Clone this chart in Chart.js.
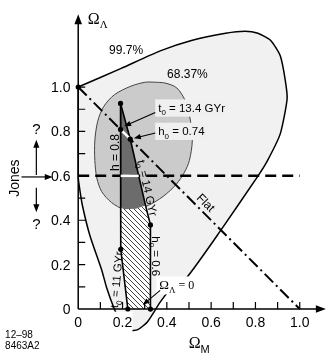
<!DOCTYPE html>
<html>
<head>
<meta charset="utf-8">
<title>Omega_M vs Omega_Lambda</title>
<script src="https://cdn.jsdelivr.net/npm/chart.js@4.4.1/dist/chart.umd.min.js"></script>
<style>
  html, body { margin: 0; padding: 0; background: #fff; }
  canvas { display: block; }
</style>
</head>
<body>
<canvas id="chart" width="331" height="357"></canvas>
<script>
// values, as [Omega_M, Omega_Lambda]
const contour997 = [
  [0, 1.0], [0.194, 1.084], [0.370, 1.163], [0.515, 1.211], [0.665, 1.242], [0.753, 1.251],
  [0.811, 1.242], [0.868, 1.211], [0.912, 1.141], [0.934, 1.035], [0.943, 0.947], [0.912, 0.789],
  [0.855, 0.670], [0.811, 0.599], [0.648, 0.361], [0.489, 0.141], [0.423, 0.097], [0.370, 0.031],
  [0.313, -0.057], [0.269, -0.093], [0.229, -0.097], [0.194, -0.066], [0.163, 0], [0.128, 0.097],
  [0.106, 0.176], [0.053, 0.330], [0.018, 0.471], [0.004, 0.559], [0, 0.595], [0, 1.0]
];
const contour6837 = [
  [0.339, 1.022], [0.392, 1.018], [0.445, 0.996], [0.485, 0.934], [0.507, 0.846], [0.515, 0.758],
  [0.502, 0.670], [0.480, 0.617], [0.441, 0.560], [0.383, 0.507], [0.317, 0.467], [0.260, 0.452],
  [0.207, 0.449], [0.150, 0.480], [0.106, 0.529], [0.084, 0.590], [0.075, 0.670], [0.075, 0.758],
  [0.088, 0.846], [0.115, 0.912], [0.163, 0.965], [0.238, 1.004], [0.304, 1.022], [0.339, 1.022]
];
const darkWedge = [
  [0.191, 0.926], [0.235, 0.765], [0.304, 0.466], [0.260, 0.452], [0.207, 0.449], [0.191, 0.458], [0.191, 0.926]
];
const hatchArea = [
  [0.191, 0.458], [0.207, 0.449], [0.260, 0.452], [0.304, 0.466], [0.326, 0.379], [0.326, 0],
  [0.224, 0], [0.192, 0.269], [0.191, 0.458]
];
const leftEdge = [[0.191, 0.926], [0.192, 0.269], [0.224, 0]];          // h = 0.8, then t0 = 11 GYr
const rightEdge = [[0.191, 0.926], [0.235, 0.765], [0.304, 0.466], [0.326, 0.379], [0.326, 0]]; // t0 = 14 GYr, h0 = 0.6
const flatLine = [[0, 1], [1, 0]];
const jonesLine = [[0, 0.6], [1, 0.6]];
const flatGap = [[0.191, 0.809], [0.235, 0.765]];
const jonesGap = [[0.192, 0.6], [0.273, 0.6]];
const dots = [[0, 1], [0.191, 0.926], [0.191, 0.809], [0.235, 0.765], [0.192, 0.269], [0.326, 0.379], [0.224, 0], [0.326, 0]];

const xTickValues = [0, 0.2, 0.4, 0.6, 0.8, 1.0];
const xTickLabels = ["0", "0.2", "0.4", "0.6", "0.8", "1.0"];
const yTickValues = [0, 0.2, 0.4, 0.6, 0.8, 1.0];
const yTickLabels = ["0", "0.2", "0.4", "0.6", "0.8", "1.0"];

const SANS = '"Liberation Sans", Arial, sans-serif';
const SERIF = '"Liberation Serif", "Times New Roman", serif';

const pts = a => a.map(([x, y]) => ({ x, y }));

function hatchPattern() {
  const s = 5;
  const c = document.createElement("canvas");
  c.width = c.height = s;
  const g = c.getContext("2d");
  g.fillStyle = "#fff";
  g.fillRect(0, 0, s, s);
  g.strokeStyle = "#111";
  g.lineWidth = 0.8;
  g.beginPath();
  g.moveTo(0, 0); g.lineTo(s, s);
  g.moveTo(-1, s - 1); g.lineTo(1, s + 1);
  g.moveTo(s - 1, -1); g.lineTo(s + 1, 1);
  g.stroke();
  return g.createPattern(c, "repeat");
}

function drawRuns(ctx, parts, px, py, opt = {}) {
  const size = opt.size || 12;
  ctx.save();
  ctx.translate(px, py);
  ctx.rotate((opt.rot || 0) * Math.PI / 180);
  ctx.textAlign = "left";
  ctx.textBaseline = "alphabetic";
  const fontOf = p => (p.sub ? Math.round(size * 0.72) : (p.size || size)) + "px " + (p.family || opt.family || SANS);
  let w = 0;
  parts.forEach(p => { ctx.font = fontOf(p); w += ctx.measureText(p.t).width; });
  let cx = opt.align === "left" ? 0 : opt.align === "right" ? -w : -w / 2;
  if (opt.box) {
    ctx.fillStyle = opt.box;
    ctx.fillRect(cx - 3, -size * 0.72, w + 6, size * 1.5);
  }
  ctx.fillStyle = "#000";
  parts.forEach(p => {
    ctx.font = fontOf(p);
    ctx.fillText(p.t, cx, size * 0.36 + (p.sub ? size * 0.3 : 0));
    cx += ctx.measureText(p.t).width;
  });
  ctx.restore();
}

function arrow(ctx, x1, y1, x2, y2, head = 7, lw = 1.2) {
  const a = Math.atan2(y2 - y1, x2 - x1);
  const c = Math.cos(a), s = Math.sin(a), hw = head * 0.38;
  ctx.save();
  ctx.strokeStyle = ctx.fillStyle = "#000";
  ctx.lineWidth = lw;
  ctx.beginPath();
  ctx.moveTo(x1, y1);
  ctx.lineTo(x2 - c * head * 0.8, y2 - s * head * 0.8);
  ctx.stroke();
  ctx.beginPath();
  ctx.moveTo(x2, y2);
  ctx.lineTo(x2 - head * c + hw * s, y2 - head * s - hw * c);
  ctx.lineTo(x2 - head * c - hw * s, y2 - head * s + hw * c);
  ctx.closePath();
  ctx.fill();
  ctx.restore();
}

const T = t => ({ t });
const S = t => ({ t, sub: true });

const annotations = {
  id: "annotations",
  afterDatasetsDraw(chart) {
    const { ctx, scales: { x, y } } = chart;
    const X = v => x.getPixelForValue(v), Y = v => y.getPixelForValue(v);

    // label patches that sit over the contours
    drawRuns(ctx, [T("t"), S("0"), T(" = 13.4 GYr")], X(0.361), Y(0.907), { size: 11.5, align: "left", box: "#f0f0f0" });
    drawRuns(ctx, [T("h"), S("0"), T(" = 0.74")], X(0.361), Y(0.802), { size: 11.5, align: "left", box: "#f0f0f0" });
    drawRuns(ctx, [{ t: "\u03A9", size: 13 }, S("\u039B"), T(" = 0")], X(0.445), Y(0.108), { size: 12, family: SERIF, box: "#fff" });

    // axes
    ctx.save();
    ctx.strokeStyle = "#000";
    ctx.lineWidth = 1.2;
    ctx.beginPath();
    for (let i = 1; i <= 10; i++) {
      const v = i / 10;
      ctx.moveTo(X(0), Y(v)); ctx.lineTo(X(0) + 7, Y(v));
      ctx.moveTo(X(v), Y(0)); ctx.lineTo(X(v), Y(0) - 7);
    }
    ctx.stroke();
    ctx.restore();
    arrow(ctx, X(0), Y(0), X(0), Y(1.328), 10, 1.5);
    arrow(ctx, X(0), Y(0), X(1.118), Y(0), 10, 1.5);

    ctx.save();
    ctx.fillStyle = "#fff";
    ctx.fillRect(X(0.142), Y(-0.012), X(0.245) - X(0.142), Y(-0.105) - Y(-0.012));
    ctx.restore();
    xTickValues.forEach((v, i) => drawRuns(ctx, [T(xTickLabels[i])], X(v), Y(-0.057), { size: 14 }));
    yTickValues.forEach((v, i) => drawRuns(ctx, [T(yTickLabels[i])], X(-0.035), Y(v), { size: 14, align: "right" }));

    drawRuns(ctx, [{ t: "\u03A9", size: 16 }, { t: "\u039B", sub: true }], X(0.088), Y(1.31), { size: 15, family: SERIF });
    drawRuns(ctx, [{ t: "\u03A9", size: 16, family: SERIF }, S("M")], X(0.546), Y(-0.152), { size: 15 });

    // region labels
    drawRuns(ctx, [T("99.7%")], X(0.216), Y(1.167), { size: 12 });
    drawRuns(ctx, [T("68.37%")], X(0.493), Y(1.062), { size: 12 });
    drawRuns(ctx, [T("h = 0.8")], X(0.163), Y(0.705), { size: 12, rot: -90 });
    drawRuns(ctx, [T("t"), S("0"), T(" = 14 GYr")], X(0.313), Y(0.546), { size: 11.5, rot: 77 });
    drawRuns(ctx, [T("t"), S("0"), T(" = 11 GYr")], X(0.172), Y(0.132), { size: 11.5, rot: -85 });
    drawRuns(ctx, [T("h"), S("0"), T(" = 0.6")], X(0.352), Y(0.238), { size: 11.5, rot: 90 });
    drawRuns(ctx, [T("Flat")], X(0.577), Y(0.480), { size: 12, rot: 45 });

    arrow(ctx, X(0.348), Y(0.885), X(0.207), Y(0.823), 7, 1.1);
    arrow(ctx, X(0.348), Y(0.793), X(0.251), Y(0.769), 7, 1.1);
    arrow(ctx, X(0.370), Y(0.084), X(0.291), Y(0.018), 7, 1.1);

    // Jones marker on the left
    drawRuns(ctx, [T("Jones")], X(-0.291), Y(0.590), { size: 14, rot: -90 });
    arrow(ctx, X(-0.256), Y(0.595), X(-0.115), Y(0.595), 8, 1.2);
    drawRuns(ctx, [T("?")], X(-0.189), Y(0.811), { size: 15 });
    drawRuns(ctx, [T("?")], X(-0.189), Y(0.383), { size: 15 });
    arrow(ctx, X(-0.189), Y(0.604), X(-0.189), Y(0.762), 8, 1.2);
    arrow(ctx, X(-0.189), Y(0.546), X(-0.189), Y(0.436), 8, 1.2);

    drawRuns(ctx, [T("12\u201398")], X(-0.33), Y(-0.115), { size: 10, align: "left" });
    drawRuns(ctx, [T("8463A2")], X(-0.33), Y(-0.163), { size: 10, align: "left" });
  }
};

const line = (data, extra) => Object.assign({ data: pts(data), showLine: true, fill: false, pointRadius: 0, borderColor: "#000", borderWidth: 1.5 }, extra);

new Chart(document.getElementById("chart"), {
  type: "scatter",
  data: {
    datasets: [
      { data: pts(dots), pointRadius: 2.6, pointBackgroundColor: "#000", pointBorderWidth: 0, showLine: false },
      line(flatGap, { borderColor: "#fff", borderWidth: 2.5 }),
      line(jonesGap, { borderColor: "#fff", borderWidth: 2.5 }),
      line(jonesLine, { borderWidth: 2.5, borderDash: [11, 6] }),
      line(flatLine, { borderWidth: 2, borderDash: [12, 4, 2, 4] }),
      line(leftEdge, { borderWidth: 1.6 }),
      line(rightEdge, { borderWidth: 1.6 }),
      line(hatchArea, { borderWidth: 0, fill: "shape", backgroundColor: hatchPattern() }),
      line(darkWedge, { borderWidth: 0, fill: "shape", backgroundColor: "#6c6c6c" }),
      line(contour6837, { borderWidth: 1, borderColor: "#444", fill: "shape", backgroundColor: "#cbcbcb", tension: 0.3 }),
      line(contour997, { borderWidth: 1.5, fill: "shape", backgroundColor: "#f1f1f1", tension: 0.2 })
    ]
  },
  options: {
    responsive: false,
    animation: false,
    events: [],
    layout: { padding: 0 },
    plugins: { legend: { display: false }, tooltip: { enabled: false } },
    scales: {
      x: { type: "linear", display: false, min: -0.335, max: 1.123 },
      y: { type: "linear", display: false, min: -0.198, max: 1.374 }
    }
  },
  plugins: [annotations]
});
</script>
</body>
</html>
